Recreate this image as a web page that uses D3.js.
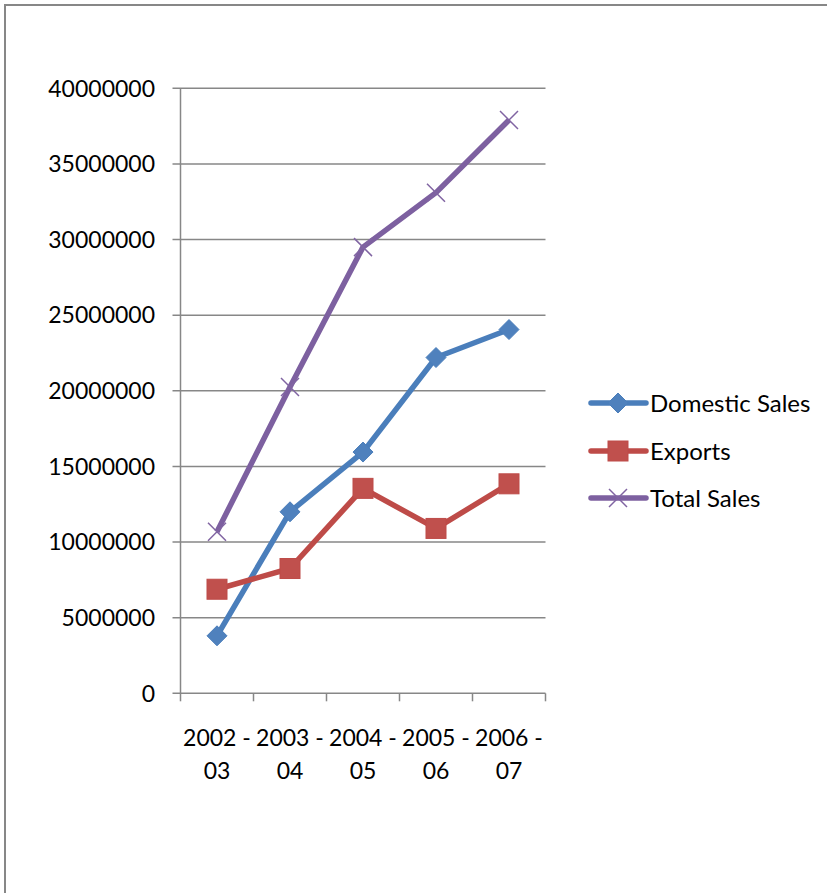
<!DOCTYPE html>
<html><head><meta charset="utf-8">
<script src="https://cdn.jsdelivr.net/npm/d3@7"></script>
<style>body{margin:0;background:#fff}svg{display:block}</style>
</head><body>
<script>
const categories = ["2002 - 03", "2003 - 04", "2004 - 05", "2005 - 06", "2006 - 07"];
const domesticSales = [3800000, 12000000, 15950000, 22200000, 24050000];
const exportsSales = [6880000, 8250000, 13550000, 10900000, 13850000];
const totalSales = [10680000, 20250000, 29500000, 33100000, 37900000];
const yTicks = [0, 5000000, 10000000, 15000000, 20000000, 25000000, 30000000, 35000000, 40000000];
const seriesNames = ["Domestic Sales", "Exports", "Total Sales"];

(function () {
const W = 827, H = 893;
const font = "Lato, 'Open Sans', sans-serif";
const svg = d3.select("body").append("svg").attr("width", W).attr("height", H);

svg.append("path").attr("d", `M5,${H} V5 H${W}`).attr("fill", "none")
  .attr("stroke", "#878787").attr("stroke-width", 2);

const pL = 180.5, pR = 545.5, pT = 88.3, pB = 693.3;
const x = d3.scaleBand().domain(categories).range([pL, pR]);
const y = d3.scaleLinear().domain([0, 40000000]).range([pB, pT]);

svg.append("g").selectAll("line").data(yTicks).enter().append("line")
  .attr("x1", pL - 8).attr("x2", pR)
  .attr("y1", d => y(d)).attr("y2", d => y(d))
  .attr("stroke", "#878787").attr("stroke-width", 1.5);
svg.append("g").selectAll("text").data(yTicks).enter().append("text")
  .attr("x", 155).attr("y", d => y(d)).attr("dy", "0.36em")
  .attr("text-anchor", "end").attr("font-family", font).attr("font-size", 23)
  .attr("fill", "#000").text(d => d3.format("d")(d));

svg.append("line").attr("x1", pL).attr("x2", pL).attr("y1", pT).attr("y2", pB)
  .attr("stroke", "#878787").attr("stroke-width", 1.5);
const xt = categories.map(c => x(c)).concat([pR]);
svg.append("g").selectAll("line").data(xt).enter().append("line")
  .attr("x1", d => d).attr("x2", d => d).attr("y1", pB).attr("y2", pB + 8)
  .attr("stroke", "#878787").attr("stroke-width", 1.5);

const xl = svg.append("g").selectAll("text").data(categories).enter().append("text")
  .attr("text-anchor", "middle").attr("font-family", font).attr("font-size", 23).attr("fill", "#000");
xl.append("tspan").attr("x", d => x(d) + x.bandwidth() / 2).attr("y", 746).text(d => d.split(" - ")[0] + " -");
xl.append("tspan").attr("x", d => x(d) + x.bandwidth() / 2).attr("y", 779).text(d => d.split(" - ")[1]);

const cx = i => x(categories[i]) + x.bandwidth() / 2;
const line = d3.line().x((d, i) => cx(i)).y(d => y(d));

const styles = [
  {data: domesticSales, color: "#4A7EBB", fill: "#4F81BD", marker: "diamond"},
  {data: exportsSales, color: "#BE4B48", fill: "#C0504D", marker: "square"},
  {data: totalSales, color: "#7D60A0", fill: "#8064A2", marker: "x"}
];

function drawMarker(g, type, px, py, s) {
  if (type === "diamond") {
    g.append("path").attr("d", `M${px},${py - 10}L${px + 10},${py}L${px},${py + 10}L${px - 10},${py}Z`)
      .attr("fill", s.fill).attr("stroke", s.color).attr("stroke-width", 1);
  } else if (type === "square") {
    g.append("rect").attr("x", px - 10).attr("y", py - 10).attr("width", 20).attr("height", 20)
      .attr("fill", s.fill).attr("stroke", s.color).attr("stroke-width", 1);
  } else {
    g.append("path").attr("d", `M${px - 9},${py - 9}L${px + 9},${py + 9}M${px + 9},${py - 9}L${px - 9},${py + 9}`)
      .attr("stroke", s.fill).attr("stroke-width", 1.5).attr("fill", "none");
  }
}

styles.forEach(s => {
  svg.append("path").datum(s.data).attr("d", line).attr("fill", "none")
    .attr("stroke", s.color).attr("stroke-width", 5.5).attr("stroke-linejoin", "round");
  const g = svg.append("g");
  s.data.forEach((v, i) => drawMarker(g, s.marker, cx(i), y(v), s));
});

const ly = [403, 451, 498];
styles.forEach((s, i) => {
  const g = svg.append("g");
  g.append("line").attr("x1", 591).attr("x2", 646).attr("y1", ly[i]).attr("y2", ly[i])
    .attr("stroke", s.color).attr("stroke-width", 5.5).attr("stroke-linecap", "round");
  drawMarker(g, s.marker, 618, ly[i], s);
  g.append("text").attr("x", 650).attr("y", ly[i]).attr("dy", "0.36em")
    .attr("font-family", font).attr("font-size", 24).attr("fill", "#000").text(seriesNames[i]);
});
})();
</script>
</body></html>
